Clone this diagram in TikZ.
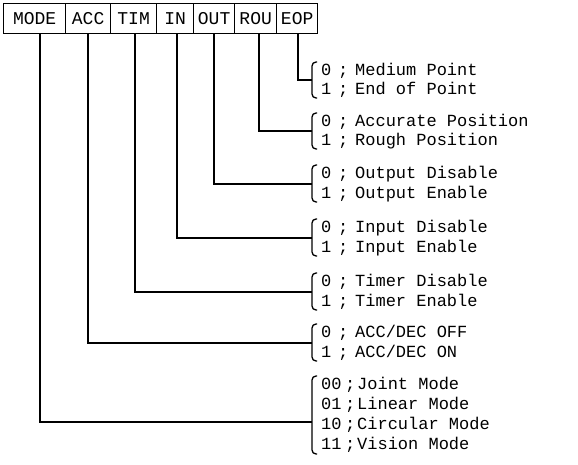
\documentclass[tikz,border=0pt]{standalone}
\usepackage{fontspec}
\newfontfamily\tw{Liberation Mono}
\newcommand{\rw}[2]{\makebox[17pt][l]{#1}\makebox[17pt][l]{;}#2}
\newcommand{\rwm}[2]{\makebox[24pt][l]{#1}\makebox[12pt][l]{;}#2}
\begin{document}
\begin{tikzpicture}[x=1pt,y=-1pt,
  txt/.style={font=\tw\fontsize{17}{17}\selectfont},
  cell/.style={font=\tw\fontsize{18}{18}\selectfont, draw, line width=1.3pt, minimum height=30pt, inner sep=0pt, anchor=north west},
  wire/.style={line width=1.3pt},
  brk/.style={line width=1.3pt, rounded corners=4pt},
  lab/.style={txt, anchor=west, inner sep=0pt}]
\useasboundingbox (0,0) rectangle (578,465);
% header
\node[cell, minimum width=62pt] (mode) at (3,3)   {MODE};
\node[cell, minimum width=45pt] (acc)  at (65,3)  {ACC};
\node[cell, minimum width=46pt] (tim)  at (110,3) {TIM};
\node[cell, minimum width=37pt] (in)   at (156,3) {IN};
\node[cell, minimum width=41pt] (out)  at (193,3) {OUT};
\node[cell, minimum width=42pt] (rou)  at (234,3) {ROU};
\node[cell, minimum width=41pt] (eop)  at (276,3) {EOP};
% wire x positions
\coordinate (xmode) at (40,0);
\coordinate (xacc)  at (88,0);
\coordinate (xtim)  at (135,0);
\coordinate (xin)   at (177,0);
\coordinate (xout)  at (214,0);
\coordinate (xrou)  at (259,0);
\coordinate (xeop)  at (298,0);
% bracket junctions
\coordinate (beop)  at (312,80);
\coordinate (brou)  at (312,131);
\coordinate (bout)  at (312,184);
\coordinate (bin)   at (312,238);
\coordinate (btim)  at (312,292);
\coordinate (bacc)  at (312,343);
\coordinate (bmode) at (312,422);
% wires
\draw[wire] (eop.south -| xeop)   |- (beop);
\draw[wire] (rou.south -| xrou)   |- (brou);
\draw[wire] (out.south -| xout)   |- (bout);
\draw[wire] (in.south -| xin)     |- (bin);
\draw[wire] (tim.south -| xtim)   |- (btim);
\draw[wire] (acc.south -| xacc)   |- (bacc);
\draw[wire] (mode.south -| xmode) |- (bmode);
% brackets
\draw[brk] (317,62)  -- (312,62)  -- (312,98)  -- (317,98);
\draw[brk] (317,113) -- (312,113) -- (312,149) -- (317,149);
\draw[brk] (317,165) -- (312,165) -- (312,202) -- (317,202);
\draw[brk] (317,219) -- (312,219) -- (312,256) -- (317,256);
\draw[brk] (317,273) -- (312,273) -- (312,310) -- (317,310);
\draw[brk] (317,324) -- (312,324) -- (312,361) -- (317,361);
\draw[brk] (317,376) -- (312,376) -- (312,454) -- (317,454);
% labels
\node[lab] (e0) at (321,71)  {\rw{0}{Medium Point}};
\node[lab] (e1) at (321,90)  {\rw{1}{End of Point}};
\node[lab] (r0) at (321,122) {\rw{0}{Accurate Position}};
\node[lab] (r1) at (321,141) {\rw{1}{Rough Position}};
\node[lab] (o0) at (321,174) {\rw{0}{Output Disable}};
\node[lab] (o1) at (321,194) {\rw{1}{Output Enable}};
\node[lab] (i0) at (321,228) {\rw{0}{Input Disable}};
\node[lab] (i1) at (321,248) {\rw{1}{Input Enable}};
\node[lab] (t0) at (321,282) {\rw{0}{Timer Disable}};
\node[lab] (t1) at (321,302) {\rw{1}{Timer Enable}};
\node[lab] (a0) at (321,333) {\rw{0}{ACC/DEC OFF}};
\node[lab] (a1) at (321,353) {\rw{1}{ACC/DEC ON}};
\node[lab] (m0) at (321,385) {\rwm{00}{Joint Mode}};
\node[lab] (m1) at (321,405) {\rwm{01}{Linear Mode}};
\node[lab] (m2) at (321,425) {\rwm{10}{Circular Mode}};
\node[lab] (m3) at (321,445) {\rwm{11}{Vision Mode}};
\end{tikzpicture}
\end{document}
